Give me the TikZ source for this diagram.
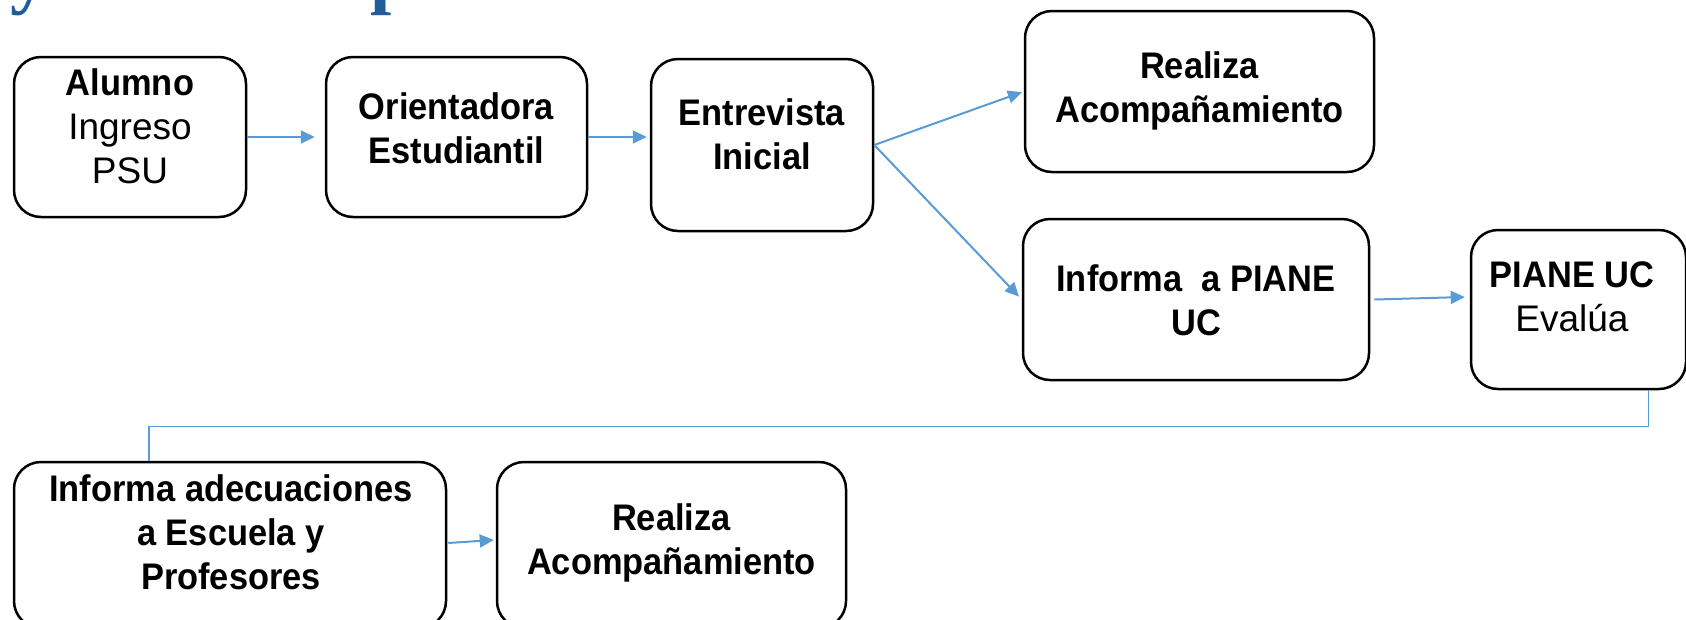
\documentclass[tikz,border=0pt]{standalone}
\usepackage{fontspec}
\setmainfont[BoldFeatures={FakeStretch=0.93}]{Liberation Sans}
\newfontfamily\titlefont{Liberation Serif}
\usetikzlibrary{arrows.meta}
\definecolor{arrowblue}{HTML}{5B9BD5}
\definecolor{titleblue}{HTML}{1F5C99}
\tikzset{
  box/.style={draw=black, line width=2.5pt, rounded corners=27pt, fill=white, inner sep=0pt},
  lbl/.style={align=center, font=\fontsize{37}{44}\selectfont, inner sep=0pt},
  flow/.style={draw=arrowblue, line width=2pt, -{Triangle[length=14pt,width=13pt]}},
  link/.style={draw=arrowblue, line width=1.3pt},
  ttl/.style={font=\titlefont\bfseries\fontsize{76}{76}\selectfont, text=titleblue, anchor=base, inner sep=0pt},
}
\begin{document}
\begin{tikzpicture}[x=1pt,y=-1pt]
\useasboundingbox (0,0) rectangle (1686,619);
\node[ttl] (ty) at (29,-1) {y};
\node[ttl] (tp) at (392,-1) {p};
% boxes
\node[box, minimum width=232pt, minimum height=160pt] (b1) at (130,137) {};
\node[box, minimum width=261pt, minimum height=160pt] (b2) at (456.5,137) {};
\node[box, minimum width=222pt, minimum height=172pt] (b3) at (762,145) {};
\node[box, minimum width=349pt, minimum height=161pt] (b4) at (1199.5,91.5) {};
\node[box, minimum width=346pt, minimum height=161pt] (b5) at (1196,299.5) {};
\node[box, minimum width=215pt, minimum height=159pt] (b6) at (1578.5,309.5) {};
\node[box, minimum width=432pt, minimum height=166pt] (b7) at (230,545) {};
\node[box, minimum width=349pt, minimum height=166pt] (b8) at (671.5,545) {};
% labels
\node[lbl] (t1) at (130,126) {\textbf{Alumno}\\Ingreso\\PSU};
\node[lbl] (t2) at (456.5,128) {\textbf{Orientadora}\\\textbf{Estudiantil}};
\node[lbl] (t3) at (762,134) {\textbf{Entrevista}\\\textbf{Inicial}};
\node[lbl] (t4) at (1199.5,91) {\textbf{Realiza}\\\textbf{Acompañamiento}};
\node[lbl] (t5) at (1196,300) {\textbf{Informa\ \ a PIANE}\\\textbf{UC}};
\node[lbl] (t6) at (1572,297) {\textbf{PIANE UC}\\Evalúa};
\node[lbl] (t7) at (231,532) {\textbf{Informa adecuaciones}\\\textbf{a Escuela y}\\\textbf{Profesores}};
\node[lbl] (t8) at (671.5,543) {\textbf{Realiza}\\\textbf{Acompañamiento}};
% connectors
\draw[flow, shorten >=10pt] (b1.east) -- (b2.west);
\draw[flow, shorten >=3pt] (b2.east) -- ([yshift=8pt]b3.west);
\draw[flow, shorten >=2pt] (b3.east) -- (b4.west);
\draw[flow, shorten >=4pt] (b3.east) -- (b5.west);
\draw[flow] ([xshift=4pt]b5.east) -- ([xshift=-5pt,yshift=12.5pt]b6.west);
\draw[link] ([xshift=70pt]b6.south) -- ++(0,36) -| ([xshift=-81pt]b7.north);
\draw[flow] ([xshift=1pt,yshift=2pt]b7.east) -- ([xshift=-2pt,yshift=5pt]b8.west);
\end{tikzpicture}
\end{document}
